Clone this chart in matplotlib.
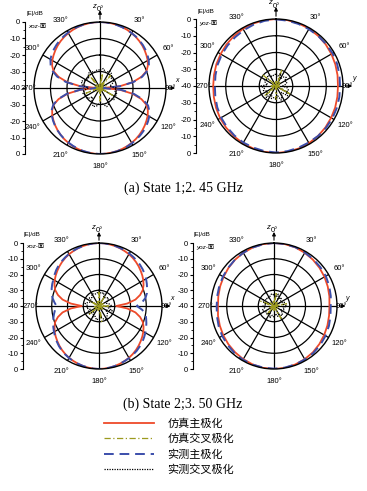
import numpy as np
import matplotlib.pyplot as plt
from matplotlib.lines import Line2D
from matplotlib import font_manager

W, H = 367, 491
# ---------------- data ----------------
ang5 = list(range(0, 365, 5))     # degrees, co-pol fine sampling
ang10 = list(range(0, 370, 10))   # degrees, cross-pol sampling

# State 1 (2.45 GHz), xoz plane
s1_xoz_sim_co = [0, -0.05, -0.2, -0.4, -0.7, -1.1, -1.6, -2.2, -2.9, -3.7, -4.6, -5.6, -6.6, -8.0, -10.0, -14.0, -20.0, -28.0, -38.0,
                 -28.0, -20.0, -14.0, -10.0, -8.0, -6.6, -5.6, -4.6, -3.7, -2.9, -2.2, -1.6, -1.1, -0.7, -0.4, -0.2, -0.05, 0,
                 -0.05, -0.2, -0.4, -0.7, -1.1, -1.6, -2.2, -2.9, -3.7, -4.6, -5.6, -6.6, -8.0, -10.0, -14.0, -20.0, -28.0, -38.0,
                 -28.0, -20.0, -14.0, -10.0, -8.0, -6.6, -5.6, -4.6, -3.7, -2.9, -2.2, -1.6, -1.1, -0.7, -0.4, -0.2, -0.05, 0]
s1_xoz_meas_co = [0, -0.1, -0.3, -0.5, -0.8, -1.2, -1.6, -2.0, -2.6, -3.2, -4.0, -4.9, -5.9, -7.3, -9.5, -13.5, -19.5, -28.0, -38.0,
                  -27.0, -19.0, -13.0, -9.0, -7.0, -5.5, -4.5, -3.6, -2.9, -2.3, -1.8, -1.3, -0.9, -0.6, -0.3, -0.15, -0.05, 0,
                  -0.1, -0.3, -0.5, -0.9, -1.3, -1.8, -2.3, -2.9, -3.6, -4.4, -5.3, -6.3, -7.6, -9.8, -13.5, -19.5, -28.0, -38.0,
                  -27.5, -19.0, -13.0, -9.2, -7.0, -5.3, -4.3, -3.5, -2.8, -2.2, -1.7, -1.2, -0.8, -0.5, -0.3, -0.1, 0, 0]
s1_xoz_sim_x = [-38, -31, -39, -37, -30, -39, -38, -36, -40, -38, -40, -39, -31, -39, -38, -40, -37, -39, -32,
                -39, -38, -40, -37, -39, -40, -31, -39, -38, -40, -37, -39, -38, -30, -39, -40, -38, -38]
s1_xoz_meas_x = [-29, -28, -30, -28, -29, -31, -30, -32, -34, -30, -31, -29, -30, -29, -32, -29, -28, -30, -31,
                 -29, -28, -30, -33, -30, -31, -29, -30, -33, -29, -28, -30, -31, -29, -28, -30, -29, -29]

# State 1 (2.45 GHz), yoz plane
s1_yoz_sim_co = [0, -0.1, -0.3, -0.5, -0.9, -1.3, -1.8, -2.3, -2.7, -3.0, -2.8, -2.4, -2.0, -1.5, -1.0, -0.6, -0.3, -0.1, 0,
                 -0.1, -0.3, -0.5, -0.9, -1.2, -1.5, -1.9, -2.3, -2.5, -2.4, -2.1, -1.8, -1.4, -1.0, -0.6, -0.3, -0.1, 0]
s1_yoz_meas_co = [-0.2, -0.4, -0.6, -0.8, -0.9, -1.0, -1.0, -1.2, -1.5, -1.8, -1.6, -1.4, -1.2, -1.1, -1.0, -1.0, -0.8, -0.5, -0.3,
                  -0.5, -0.8, -1.0, -1.4, -1.8, -2.2, -2.7, -3.2, -3.5, -3.3, -2.9, -2.6, -2.3, -2.0, -1.5, -1.0, -0.5, -0.2]
s1_yoz_sim_x = [-37, -39, -30, -38, -40, -37, -39, -38, -40, -38, -39, -37, -30, -39, -38, -40, -39, -37, -32,
                -38, -40, -39, -37, -31, -39, -38, -40, -37, -39, -38, -40, -30, -38, -39, -40, -38, -37]
s1_yoz_meas_x = [-33, -34, -32, -35, -33, -32, -34, -33, -34, -36, -33, -32, -33, -31, -35, -33, -31, -34, -32,
                 -33, -32, -35, -31, -33, -34, -32, -33, -31, -35, -33, -32, -34, -32, -33, -34, -33, -33]

# State 2 (3.50 GHz), xoz plane
s2_xoz_sim_co = [0, -0.1, -0.3, -0.6, -1.0, -1.5, -2.0, -2.7, -3.5, -4.4, -5.4, -6.4, -7.5, -8.8, -10.4, -13.0, -16.5, -22.0, -29.0,
                 -22.0, -16.5, -13.0, -10.4, -8.8, -7.5, -6.4, -5.4, -4.4, -3.5, -2.7, -2.0, -1.5, -1.0, -0.6, -0.3, -0.1, 0,
                 -0.1, -0.3, -0.6, -1.0, -1.5, -2.0, -2.7, -3.5, -4.4, -5.4, -6.4, -7.5, -8.8, -10.4, -13.0, -16.5, -22.0, -29.0,
                 -22.0, -16.5, -13.0, -10.4, -8.8, -7.5, -6.4, -5.4, -4.4, -3.5, -2.7, -2.0, -1.5, -1.0, -0.6, -0.3, -0.1, 0]
s2_xoz_meas_co = [0, -0.1, -0.3, -0.5, -0.8, -1.1, -1.5, -2.0, -2.5, -3.1, -3.8, -4.6, -5.5, -6.5, -7.5, -8.5, -10.0, -12.5, -16.0,
                  -12.5, -10.0, -9.0, -8.0, -7.0, -6.0, -5.1, -4.2, -3.5, -2.8, -2.3, -1.8, -1.4, -1.0, -0.6, -0.3, -0.1, 0,
                  -0.1, -0.3, -0.6, -1.0, -1.4, -1.9, -2.5, -3.2, -4.0, -5.0, -6.0, -7.0, -8.0, -9.0, -10.0, -11.0, -12.0, -13.0,
                  -11.5, -10.0, -9.0, -8.0, -7.2, -6.5, -5.5, -4.5, -3.7, -3.0, -2.4, -1.8, -1.3, -0.9, -0.6, -0.3, -0.1, 0]
s2_xoz_sim_x = [-31, -38, -39, -32, -40, -38, -37, -39, -40, -33, -39, -38, -40, -37, -39, -40, -38, -30, -39,
                -37, -40, -38, -39, -31, -40, -38, -37, -39, -40, -38, -33, -39, -38, -40, -37, -38, -31]
s2_xoz_meas_x = [-30, -32, -31, -34, -33, -32, -34, -35, -33, -32, -34, -31, -35, -33, -32, -30, -31, -33, -32,
                 -31, -33, -32, -35, -33, -31, -34, -32, -33, -31, -33, -35, -32, -33, -31, -32, -32, -30]

# State 2 (3.50 GHz), yoz plane
s2_yoz_sim_co = [0, -0.1, -0.4, -1.0, -1.6, -2.3, -3.0, -3.7, -4.3, -4.8, -4.5, -3.9, -3.2, -2.4, -1.6, -1.0, -0.5, -0.1, 0,
                 -0.1, -0.5, -1.0, -1.6, -2.2, -2.8, -3.4, -3.9, -4.4, -4.1, -3.6, -3.0, -2.3, -1.6, -1.0, -0.5, -0.1, 0]
s2_yoz_meas_co = [0, -0.1, -0.3, -0.8, -1.2, -1.6, -2.0, -2.7, -3.4, -4.0, -3.6, -2.9, -2.2, -1.6, -1.1, -0.8, -0.5, -0.3, -0.2,
                  -0.3, -0.4, -0.6, -1.0, -1.5, -2.0, -2.6, -3.2, -3.6, -3.4, -3.0, -2.6, -2.1, -1.5, -1.0, -0.5, -0.2, 0]
s2_yoz_sim_x = [-38, -31, -39, -40, -37, -39, -38, -40, -32, -39, -38, -40, -37, -39, -40, -31, -38, -39, -37,
                -40, -38, -39, -33, -40, -38, -37, -39, -40, -38, -31, -39, -37, -40, -38, -39, -37, -38]
s2_yoz_meas_x = [-33, -34, -32, -35, -33, -34, -36, -33, -34, -32, -34, -33, -35, -33, -32, -34, -33, -35, -33,
                 -34, -32, -35, -33, -34, -33, -32, -34, -33, -35, -33, -32, -34, -33, -34, -33, -32, -33]

ring_levels = [-30, -20, -10]
theta_ticks = list(range(0, 360, 30))
scale_ticks = [-40, -30, -20, -10, 0, 10, 20, 30, 40]
scale_labels = ['0', '-10', '-20', '-30', '-40', '-30', '-20', '-10', '0']
legend_labels = ['仿真主极化', '仿真交叉极化', '实测主极化', '实测交叉极化']
captions = ['(a) State 1;2. 45 GHz', '(b) State 2;3. 50 GHz']

# ---------------- styles ----------------
RED = '#ee4a2a'
OLIVE = '#9c9a1e'
BLUE = '#3b4eab'
styles = [dict(color=RED, lw=1.3, ls='-'),
          dict(color=OLIVE, lw=0.9, ls=(0, (5, 2, 1, 2))),
          dict(color=BLUE, lw=1.4, ls=(0, (5, 3))),
          dict(color='black', lw=0.9, ls=(0, (1, 1)))]

names = {f.name for f in font_manager.fontManager.ttflist}
small_fam = [n for n in ['Liberation Sans Narrow', 'Liberation Sans'] if n in names] + ['Noto Sans CJK SC']
plt.rcParams['font.family'] = small_fam

fig = plt.figure(figsize=(W / 100, H / 100), dpi=100)


def fx(x):
    return x / W


def fy(y):
    return 1 - y / H


def panel(cx, cy, R, scale_x, plane, axis_letter, sim_co, meas_co, sim_x, meas_x):
    ax = fig.add_axes([fx(cx - R), fy(cy + R), 2 * R / W, 2 * R / H], projection='polar')
    ax.set_theta_zero_location('N')
    ax.set_theta_direction(-1)
    ax.set_ylim(-40, 0)
    ax.set_yticks(ring_levels)
    ax.set_yticklabels([])
    labels = []
    for t in theta_ticks:
        labels.append('' if t in (90, 270) else f'{t}°')
    ax.set_thetagrids(theta_ticks, labels, fontsize=5.5)
    ax.tick_params(axis='x', pad=-1.5)
    ax.grid(True, color='black', lw=0.9)
    ax.spines['polar'].set_linewidth(1.0)
    ax.set_facecolor('none')
    a5 = np.deg2rad(ang5)
    a10 = np.deg2rad(ang10)
    ac = a5 if len(sim_co) == len(ang5) else a10
    ax.plot(ac, np.clip(sim_co, -40, 0), **styles[0])
    ax.plot(ac, np.clip(meas_co, -40, 0), **styles[2])
    ax.plot(a10, np.clip(sim_x, -40, 0), **styles[1])
    ax.plot(a10, np.clip(meas_x, -40, 0), **styles[3])
    # axis arrows
    ax.annotate('', xy=(0.5, 1.11), xytext=(0.5, 1.0), xycoords='axes fraction',
                arrowprops=dict(arrowstyle='-|>', lw=0.8, color='black', mutation_scale=5))
    ax.annotate('', xy=(1.09, 0.5), xytext=(1.0, 0.5), xycoords='axes fraction',
                arrowprops=dict(arrowstyle='-|>', lw=0.8, color='black', mutation_scale=5))
    ax.text(0.47, 1.12, 'z', transform=ax.transAxes, fontsize=5.5, style='italic',
            ha='right', va='center')
    ax.text(1.08, 0.53, axis_letter, transform=ax.transAxes, fontsize=5, style='italic',
            ha='center', va='bottom')
    # 90 / 270 labels placed by hand beside the circle
    fig.text(fx(cx + R - 1), fy(cy), '90°', fontsize=5.5, ha='left', va='center')
    fig.text(fx(cx - R + 2), fy(cy), '270°', fontsize=5.5, ha='right', va='center')

    # left dB scale
    sa = fig.add_axes([fx(scale_x), fy(cy + R), 0.001, 2 * R / H])
    sa.set_ylim(-40, 40)
    sa.set_yticks(scale_ticks)
    sa.set_yticklabels(scale_labels, fontsize=5.5)
    sa.set_yticks(list(range(-40, 41, 5)), minor=True)
    sa.tick_params(axis='y', which='major', length=2.5, width=0.8, pad=1)
    sa.tick_params(axis='y', which='minor', length=1.5, width=0.6)
    sa.set_xticks([])
    for s in ['top', 'right', 'bottom']:
        sa.spines[s].set_visible(False)
    sa.spines['left'].set_linewidth(0.8)
    sa.set_facecolor('none')
    fig.text(fx(scale_x + 1), fy(cy - R - 8), '|E|/dB', fontsize=4.5, ha='left', va='center')
    fig.text(fx(scale_x + 3), fy(cy - R + 4), plane + '-面', fontsize=4.5, ha='left', va='center',
             style='italic')


panel(100, 88, 66, 25, 'xoz', 'x', s1_xoz_sim_co, s1_xoz_meas_co, s1_xoz_sim_x, s1_xoz_meas_x)
panel(276, 86, 67, 196, 'yoz', 'y', s1_yoz_sim_co, s1_yoz_meas_co, s1_yoz_sim_x, s1_yoz_meas_x)
panel(99, 306, 63, 23, 'xoz', 'x', s2_xoz_sim_co, s2_xoz_meas_co, s2_xoz_sim_x, s2_xoz_meas_x)
panel(274, 306, 63, 193, 'yoz', 'y', s2_yoz_sim_co, s2_yoz_meas_co, s2_yoz_sim_x, s2_yoz_meas_x)

cap_font = ['Liberation Serif', 'Noto Sans CJK SC']
fig.text(fx(183), fy(188), captions[0], fontsize=10, ha='center', va='center', family=cap_font)
fig.text(fx(183), fy(404), captions[1], fontsize=10, ha='center', va='center', family=cap_font)

handles = [Line2D([], [], **styles[i]) for i in range(4)]
fig.legend(handles, legend_labels, loc='upper left', bbox_to_anchor=(fx(104), fy(418)),
           frameon=False, prop=dict(family=['Noto Sans CJK SC'], size=8),
           handlelength=4.5, handletextpad=1.2, labelspacing=0.45, borderpad=0, borderaxespad=0)

fig.savefig('out.png', dpi=100)
